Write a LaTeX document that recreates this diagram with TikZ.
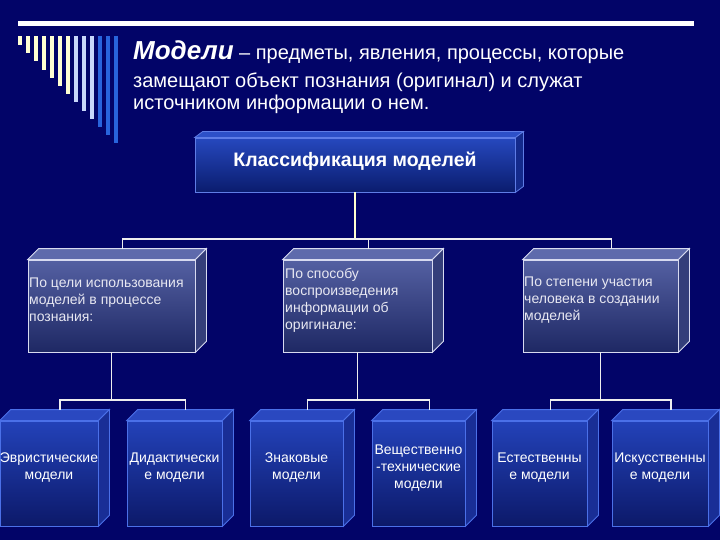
\documentclass[tikz,border=0pt]{standalone}
\usepackage{fontspec}
\setmainfont{Liberation Sans}
\definecolor{bg}{RGB}{2,4,104}
\definecolor{stripeY}{RGB}{255,255,210}
\definecolor{stripeL}{RGB}{200,215,250}
\definecolor{stripeB}{RGB}{40,100,220}
\definecolor{tbA}{RGB}{38,72,190}
\definecolor{tbB}{RGB}{26,55,168}
\definecolor{tbC}{RGB}{10,28,110}
\definecolor{tbTop}{RGB}{45,80,200}
\definecolor{tbSide}{RGB}{20,42,140}
\definecolor{tbLine}{RGB}{95,125,230}
\definecolor{mbA}{RGB}{84,96,162}
\definecolor{mbB}{RGB}{104,116,178}
\definecolor{mbC}{RGB}{30,40,100}
\definecolor{mbTop}{RGB}{94,106,172}
\definecolor{mbSide}{RGB}{52,62,122}
\definecolor{mbLine}{RGB}{215,218,240}
\definecolor{bbA}{RGB}{35,66,185}
\definecolor{bbB}{RGB}{24,48,150}
\definecolor{bbC}{RGB}{12,25,105}
\definecolor{bbTop}{RGB}{42,72,192}
\definecolor{bbSide}{RGB}{25,46,150}
\definecolor{bbLine}{RGB}{75,112,232}
\definecolor{connW}{RGB}{238,238,238}
\definecolor{connY}{RGB}{255,255,205}
\definecolor{midtext}{RGB}{232,232,242}

\newcommand{\cuboid}[8]{%
  \node[#8front, minimum width={#4-#2}, minimum height={#5-#3}] (#1) at ({(#2+#4)/2},{(#3+#5)/2}) {};
  \filldraw[#8top] (#1.north west) -- ++(#6,-#7) -- ([shift={(#6,-#7)}]#1.north east) -- (#1.north east) -- cycle;
  \filldraw[#8side] (#1.north east) -- ++(#6,-#7) -- ([shift={(#6,-#7)}]#1.south east) -- (#1.south east) -- cycle;
  \coordinate (#1top) at ([shift={(#6,-#7)}]#1.north);
}

\begin{document}
\begin{tikzpicture}[x=1pt,y=-1pt,
  tbfront/.style={draw=tbLine, line width=0.8pt, top color=tbA, middle color=tbB, bottom color=tbC, inner sep=0pt},
  tbtop/.style={draw=tbLine, line width=0.8pt, fill=tbTop},
  tbside/.style={draw=tbLine, line width=0.8pt, fill=tbSide},
  mbfront/.style={draw=mbLine, line width=0.8pt, top color=mbA, middle color=mbB, bottom color=mbC, inner sep=0pt},
  mbtop/.style={draw=mbLine, line width=0.8pt, fill=mbTop},
  mbside/.style={draw=mbLine, line width=0.8pt, fill=mbSide},
  bbfront/.style={draw=bbLine, line width=0.8pt, top color=bbA, middle color=bbB, bottom color=bbC, inner sep=0pt},
  bbtop/.style={draw=bbLine, line width=0.8pt, fill=bbTop},
  bbside/.style={draw=bbLine, line width=0.8pt, fill=bbSide},
  conn/.style={draw=connW, line width=1.8pt},
  connyel/.style={draw=connY, line width=1.8pt},
  headline/.style={anchor=base west, text=white, inner sep=0pt, font=\fontsize{20}{22}\selectfont},
  midlabel/.style={text=midtext, anchor=west, align=left, inner sep=0pt, font=\fontsize{14}{17}\selectfont},
  botlabel/.style={text=white, align=center, inner sep=0pt, font=\fontsize{14}{17}\selectfont},
]
\useasboundingbox (0,0) rectangle (720,540);
\fill[bg] (0,0) rectangle (720,540);

% top bar and stripes
\fill[white] (18,21) rectangle (694,26);
\foreach \i in {0,...,6} {\fill[stripeY] ({18+8*\i},36) rectangle ({22+8*\i},{45+8.2*\i});}
\foreach \i in {7,...,9} {\fill[stripeL] ({18+8*\i},36) rectangle ({22+8*\i},{45+8.2*\i});}
\foreach \i in {10,...,12} {\fill[stripeB] ({18+8*\i},36) rectangle ({22+8*\i},{45+8.2*\i});}

% heading
\node[headline] (head1) at (133,60)
  {{\fontsize{26}{26}\selectfont\bfseries\itshape Модели} – предметы, явления, процессы, которые};
\node[headline] (head2) at (133,88) {замещают объект познания (оригинал) и служат};
\node[headline] (head3) at (133,110) {источником информации о нем.};

% connector levels
\coordinate (bus1) at (355,239);
\coordinate (bus2) at (0,400);

% boxes
\cuboid{T}{195}{138}{515}{192}{8}{6}{tb}
\node[text=white, font=\fontsize{19.5}{20}\selectfont\bfseries, inner sep=0pt] (Tt) at (355,161) {Классификация моделей};

\cuboid{M1}{28}{260}{195}{352}{11}{11}{mb}
\cuboid{M2}{283}{260}{432}{352}{11}{11}{mb}
\cuboid{M3}{523}{260}{678}{352}{11}{11}{mb}
\node[midlabel] (M1t) at (29,300) {По цели использования\\моделей в процессе\\познания:};
\node[midlabel] (M2t) at (285,300) {По способу\\воспроизведения\\информации об\\оригинале:};
\node[midlabel] (M3t) at (524,300) {По степени участия\\человека в создании\\моделей};

\cuboid{A}{0}{421}{98}{526}{11}{11}{bb}
\cuboid{B}{127}{421}{222}{526}{11}{11}{bb}
\cuboid{C}{250}{421}{343}{526}{11}{11}{bb}
\cuboid{D}{372}{421}{465}{526}{11}{11}{bb}
\cuboid{E}{492}{421}{587}{526}{11}{11}{bb}
\cuboid{F}{612}{421}{708}{526}{11}{11}{bb}
\node[botlabel] (At) at (49,468) {Эвристические\\модели};
\node[botlabel] (Bt) at (174.5,468) {Дидактически\\е модели};
\node[botlabel] (Ct) at (296.5,468) {Знаковые\\модели};
\node[botlabel] (Dt) at (418.5,468) {Вещественно\\-технические\\модели};
\node[botlabel] (Et) at (539.5,468) {Естественны\\е модели};
\node[botlabel] (Ft) at (660,468) {Искусственны\\е модели};

\draw[connyel] (T.south) -- (bus1);
\draw[conn] (M1top) |- (bus1) -| (M3top);
\draw[conn] (M2top) -- (M2top |- bus1);

\draw[conn] (Atop) |- (M1.south |- bus2) -| (Btop);
\draw[conn] (M1.south) -- (M1.south |- bus2);
\draw[conn] (Ctop) |- (M2.south |- bus2) -| (Dtop);
\draw[conn] (M2.south) -- (M2.south |- bus2);
\draw[conn] (Etop) |- (M3.south |- bus2) -| (Ftop);
\draw[conn] (M3.south) -- (M3.south |- bus2);
\end{tikzpicture}
\end{document}
